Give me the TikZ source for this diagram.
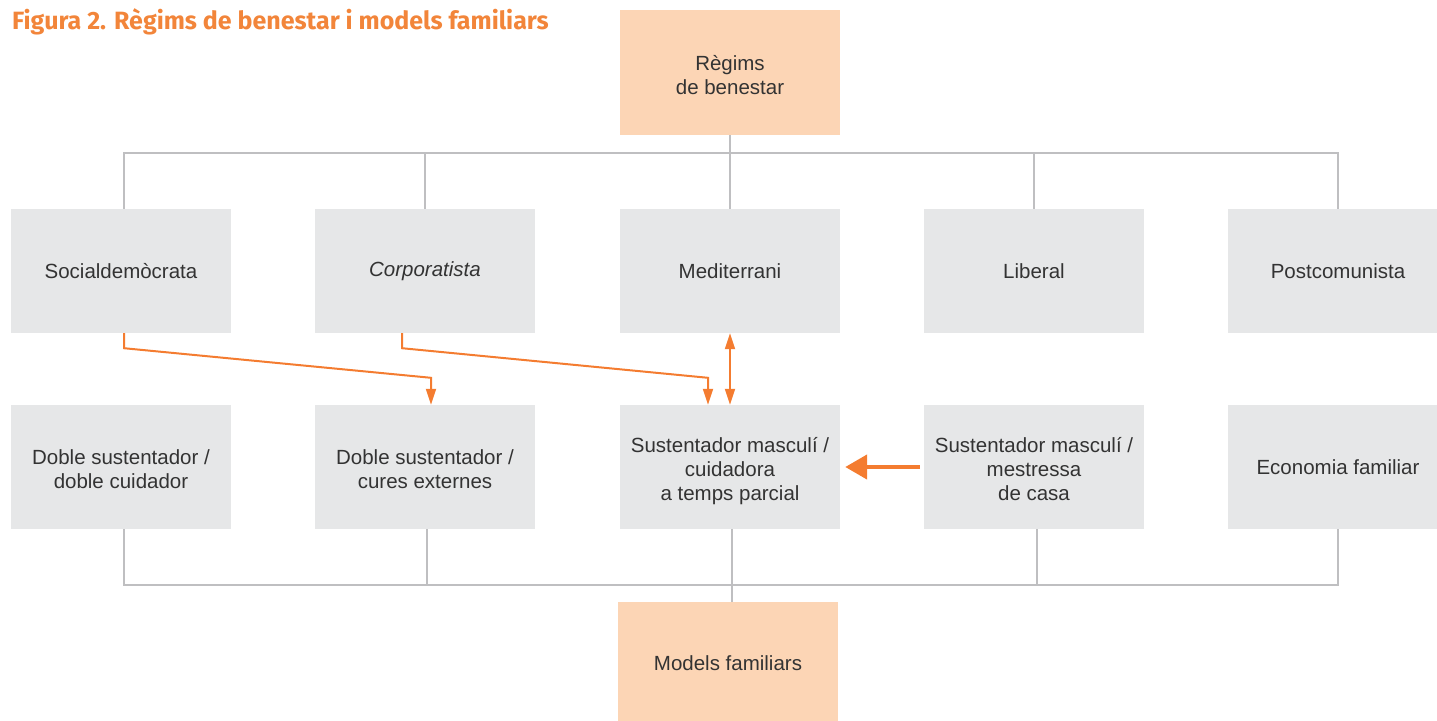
\documentclass[tikz,border=0pt]{standalone}
\usepackage{fontspec}
\setmainfont{Liberation Sans}
\newfontfamily\titlefont{Fira Sans}
\usetikzlibrary{arrows.meta}
\definecolor{boxgray}{HTML}{E6E7E8}
\definecolor{peach}{HTML}{FCD5B5}
\definecolor{busgray}{HTML}{BFBFC1}
\definecolor{orng}{HTML}{F47C30}
\definecolor{ttl}{HTML}{F2853A}
\definecolor{txt}{HTML}{333333}
\newcommand\mlines[1]{\begin{tabular}{@{}c@{}}\rule{0pt}{27pt}#1\end{tabular}}
\tikzset{
  gbox/.style={fill=boxgray, minimum width=220pt, minimum height=124pt, inner sep=0pt,
    align=center, font=\fontsize{20.5}{24}\selectfont, text=txt},
  pbox/.style={gbox, fill=peach},
  bus/.style={draw=busgray, line width=2.4pt},
  oarr/.style={draw=orng, line width=2pt, -{Triangle[length=16pt,width=10pt]}},
  oarrd/.style={draw=orng, line width=2pt, {Triangle[length=16pt,width=10pt]}-{Triangle[length=16pt,width=10pt]}},
  othick/.style={draw=orng, line width=4.5pt, -{Triangle[length=22pt,width=24pt]}}
}
\begin{document}
\begin{tikzpicture}[x=1pt,y=-1pt]
\useasboundingbox (0,0) rectangle (1437,720);
\node[anchor=base west, font=\titlefont\bfseries\fontsize{25}{29}\selectfont, text=ttl, inner sep=0pt] (title) at (12,29) {Figura 2. Règims de benestar i models familiars};
% top and bottom
\node[pbox, minimum height=125pt] (top) at (730,72.5) {\mlines{Règims\\de benestar}};
\node[pbox, minimum height=122pt] (bot) at (728,663) {Models familiars};
% row 1
\node[gbox] (r1a) at (121,271) {Socialdemòcrata};
\node[gbox] (r1b) at (425,271) {\itshape Corporatista};
\node[gbox] (r1c) at (730,271) {Mediterrani};
\node[gbox] (r1d) at (1034,271) {Liberal};
\node[gbox] (r1e) at (1338,271) {Postcomunista};
% row 2
\node[gbox] (r2a) at (121,467) {\mlines{Doble sustentador /\\doble cuidador}};
\node[gbox] (r2b) at (425,467) {\mlines{Doble sustentador /\\cures externes}};
\node[gbox] (r2c) at (730,467) {\mlines{Sustentador masculí /\\cuidadora\\a temps parcial}};
\node[gbox] (r2d) at (1034,467) {\mlines{Sustentador masculí /\\mestressa\\de casa}};
\node[gbox] (r2e) at (1338,467) {Economia familiar};
% top bus
\coordinate (tb) at (730,153);
\draw[bus] (top.south) -- (tb);
\draw[bus] ([xshift=3pt]r1a.north) |- (tb) -| (r1e.north);
\draw[bus] (r1b.north) -- (r1b.north |- tb);
\draw[bus] (r1c.north) -- (r1c.north |- tb);
\draw[bus] (r1d.north) -- (r1d.north |- tb);
% bottom bus
\coordinate (bb) at (732,585);
\draw[bus] ([xshift=4pt]bot.north) -- ([xshift=4pt]bot.north |- bb);
\draw[bus] ([xshift=3pt]r2a.south) |- (bb) -| (r2e.south);
\draw[bus] ([xshift=2pt]r2b.south) -- ([xshift=2pt]r2b.south |- bb);
\draw[bus] ([xshift=2pt]r2c.south) -- ([xshift=2pt]r2c.south |- bb);
\draw[bus] ([xshift=3pt]r2d.south) -- ([xshift=3pt]r2d.south |- bb);
% orange arrows
\draw[oarr] ([xshift=3pt]r1a.south) -- ++(0,15) -- ([xshift=6pt,yshift=27pt]r2b.north) -- ([xshift=6pt]r2b.north);
\draw[oarr] ([xshift=-23pt]r1b.south) -- ++(0,15) -- ([xshift=-22pt,yshift=27pt]r2c.north) -- ([xshift=-22pt]r2c.north);
\draw[oarrd] (r1c.south) -- (r2c.north);
\draw[othick] ([xshift=-4pt]r2d.west) -- ([xshift=5pt]r2c.east);
\end{tikzpicture}
\end{document}
